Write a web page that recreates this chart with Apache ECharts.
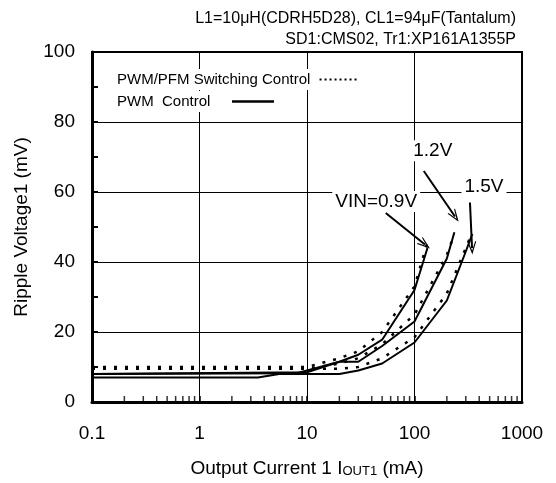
<!DOCTYPE html>
<html>
<head>
<meta charset="utf-8">
<script src="https://cdn.jsdelivr.net/npm/echarts@6/dist/echarts.min.js"></script>
<style>
  html, body { margin: 0; padding: 0; background: #fff; }
  #main { width: 556px; height: 483px; }
</style>
</head>
<body>
<div id="main"></div>
<script>
// output current (mA) / ripple voltage (mV)
// PWM control (solid)
const pwm09X = [0.1, 8, 10, 20, 30, 50, 100, 132];
const pwm09Y = [8, 8.2, 9, 11.5, 13.5, 17.8, 32, 44];
const pwm12X = [0.1, 10, 20, 30, 50, 100, 200, 235];
const pwm12Y = [8, 8.5, 11.5, 11.5, 16, 23, 41, 48.5];
const pwm15X = [0.1, 3.5, 5.5, 20, 30, 50, 100, 200, 300, 345];
const pwm15Y = [7, 7, 8, 8, 9, 11, 17, 29, 43, 48];

// PWM/PFM switching control (dotted)
const pfm09X = [0.1, 10, 20, 30, 50, 100, 130];
const pfm09Y = [10, 10, 12.5, 14.5, 20, 33, 45];
const pfm12X = [0.1, 10, 20, 30, 50, 100, 200, 235];
const pfm12Y = [9.5, 9.5, 11, 12.5, 16.5, 25, 42, 48];
const pfm15X = [0.1, 10, 20, 30, 50, 100, 200, 300, 340];
const pfm15Y = [9.5, 9.5, 9.5, 10, 12.5, 18.5, 31, 44, 48];

// log axis minor ticks (2..9 of each decade)
const minorTicksX = [
  0.2, 0.3, 0.4, 0.5, 0.6, 0.7, 0.8, 0.9,
  2, 3, 4, 5, 6, 7, 8, 9,
  20, 30, 40, 50, 60, 70, 80, 90,
  200, 300, 400, 500, 600, 700, 800, 900
];

const titleLines = ['L1=10\u03bcH(CDRH5D28), CL1=94\u03bcF(Tantalum)', 'SD1:CMS02, Tr1:XP161A1355P'];
const legendNames = ['PWM/PFM Switching Control', 'PWM  Control'];

// labels + arrows, in data coords
const noteLabels = [
  { name: 'VIN=0.9V', coord: [44, 57.3] },
  { name: '1.2V', coord: [148, 71.8] },
  { name: '1.5V', coord: [443, 61.6] }
];
const noteArrows = [
  [[54, 54], [125, 45]],
  [[122, 66], [238, 53]],
  [[328, 57], [343, 44]]
];

const FONT = '"Liberation Sans", Arial, sans-serif';
const ARROW = 'path://M0,10 L5,0 L10,10 L8.8,10 L5,3 L1.2,10 Z';

function pairs(xs, ys) {
  return xs.map((x, i) => [x, ys[i]]);
}

function solid(xs, ys) {
  return {
    name: legendNames[1],
    type: 'line',
    data: pairs(xs, ys),
    symbol: 'none',
    silent: true,
    itemStyle: { color: '#000' },
    lineStyle: { color: '#000', width: 2 }
  };
}

function dotted(xs, ys) {
  return {
    name: legendNames[0],
    type: 'line',
    data: pairs(xs, ys),
    symbol: 'none',
    silent: true,
    itemStyle: { color: '#000' },
    lineStyle: { color: '#000', width: 2.5, type: [3, 8] }
  };
}

const series = [
  dotted(pfm09X, pfm09Y),
  dotted(pfm12X, pfm12Y),
  dotted(pfm15X, pfm15Y),
  solid(pwm09X, pwm09Y),
  solid(pwm12X, pwm12Y),
  solid(pwm15X, pwm15Y),
  {
    // minor ticks on the bottom axis
    type: 'scatter',
    data: minorTicksX.map(x => [x, 0]),
    symbol: 'rect',
    symbolSize: [1.5, 6],
    symbolOffset: [0, -3],
    itemStyle: { color: '#000' },
    silent: true,
    clip: false,
    z: 5
  }
];

// annotations hang on the first solid series
series[3].markPoint = {
  symbol: 'circle',
  symbolSize: 1,
  itemStyle: { color: 'rgba(0,0,0,0)' },
  silent: true,
  label: {
    show: true,
    position: 'inside',
    formatter: '{b}',
    color: '#000',
    fontSize: 19,
    fontFamily: FONT,
    backgroundColor: '#fff',   // gridlines break round the text
    padding: [1, 3]
  },
  data: noteLabels
};
series[3].markLine = {
  silent: true,
  symbol: ['none', ARROW],
  symbolSize: [9, 13],
  label: { show: false },
  lineStyle: { color: '#000', width: 2, type: 'solid' },
  itemStyle: { color: '#000' },
  data: noteArrows.map(a => [{ coord: a[0] }, { coord: a[1] }])
};

const legendBase = {
  left: 112,
  padding: [3, 5],
  backgroundColor: '#fff',
  align: 'right',
  itemHeight: 10,
  selectedMode: false,
  itemStyle: { opacity: 0 },   // no symbol, just the line
  textStyle: { fontSize: 15, color: '#000', fontFamily: FONT }
};

const option = {
  animation: false,
  textStyle: { fontFamily: FONT, color: '#000' },
  title: [
    {
      text: titleLines[0],
      right: 40,
      top: 11,
      padding: 0,
      textStyle: { fontSize: 16, fontWeight: 'normal', color: '#000', fontFamily: FONT }
    },
    {
      text: titleLines[1],
      right: 40,
      top: 32,
      padding: 0,
      textStyle: { fontSize: 16, fontWeight: 'normal', color: '#000', fontFamily: FONT }
    }
  ],
  legend: [
    Object.assign({}, legendBase, {
      data: [legendNames[0]],
      top: 69,
      itemWidth: 38,
      formatter: n => n + ' ',
      lineStyle: { type: [2, 3], width: 2, color: '#000' }
    }),
    Object.assign({}, legendBase, {
      data: [legendNames[1]],
      top: 91,
      itemWidth: 42,
      formatter: n => n + '    ',
      lineStyle: { width: 2.5, color: '#000' }
    })
  ],
  grid: {
    left: 92,
    right: 34,
    top: 52,
    bottom: 77,
    show: true,
    borderColor: '#000',
    borderWidth: 2
  },
  xAxis: {
    type: 'log',
    logBase: 10,
    min: 0.1,
    max: 1000,
    name: 'Output Current 1 I{s|OUT1} (mA)',
    nameLocation: 'middle',
    nameGap: 57,
    nameTextStyle: {
      fontSize: 19,
      color: '#000',
      fontFamily: FONT,
      rich: { s: { fontSize: 13, color: '#000', fontFamily: FONT, verticalAlign: 'bottom' } }
    },
    axisLine: { onZero: false, lineStyle: { color: '#000', width: 3 } },
    axisTick: { inside: true, length: 6, lineStyle: { color: '#000', width: 1.5 } },
    axisLabel: {
      fontSize: 19,
      color: '#000',
      margin: 22,
      formatter: v => String(parseFloat(Number(v).toPrecision(4)))
    },
    splitLine: { show: true, lineStyle: { color: '#000', width: 1 } }
  },
  yAxis: {
    type: 'value',
    min: 0,
    max: 100,
    interval: 20,
    name: 'Ripple Voltage1 (mV)',
    nameLocation: 'middle',
    nameGap: 61,
    nameTextStyle: { fontSize: 19, color: '#000', fontFamily: FONT },
    axisLine: { show: true, lineStyle: { color: '#000', width: 3 } },
    axisTick: { show: true, inside: true, length: 6, lineStyle: { color: '#000', width: 2 } },
    minorTick: { show: true, splitNumber: 2, length: 6, lineStyle: { color: '#000', width: 2 } },
    axisLabel: { fontSize: 19, color: '#000', margin: 17 },
    splitLine: { show: true, lineStyle: { color: '#000', width: 1 } }
  },
  series: series
};

const chart = echarts.init(document.getElementById('main'));
chart.setOption(option);
</script>
</body>
</html>
